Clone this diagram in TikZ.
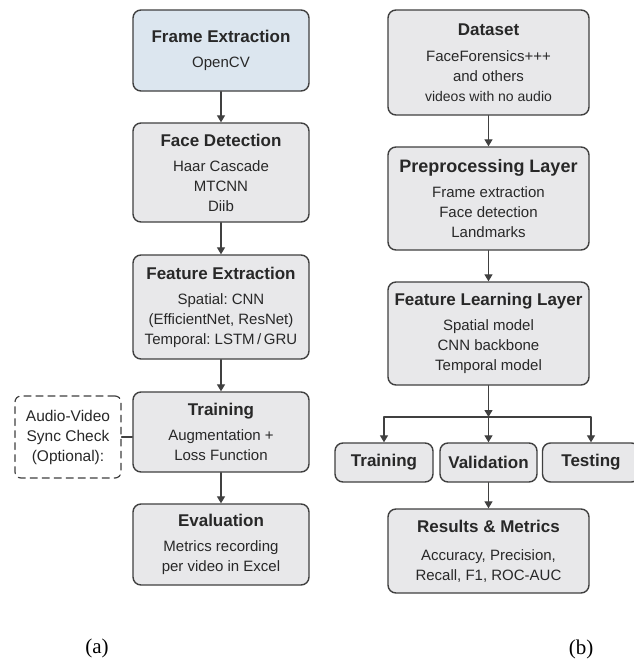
\documentclass[tikz,border=0pt]{standalone}
\usepackage{fontspec}
\setmainfont{Liberation Sans}
\newfontfamily\capfont{Liberation Serif}
\usetikzlibrary{arrows.meta}
\definecolor{boxfill}{RGB}{232,232,234}
\definecolor{bluefill}{RGB}{220,230,239}
\definecolor{edgegray}{RGB}{64,64,64}
\definecolor{textgray}{RGB}{40,40,40}
\frenchspacing

\begin{document}
\begin{tikzpicture}[x=1pt, y=-1pt, line join=round, line cap=round,
    box/.style={draw=edgegray, line width=1.4pt, fill=boxfill, rounded corners=8pt,
      align=center, text=textgray, inner sep=0pt, font=\fontsize{15}{20}\selectfont},
    tagbox/.style={box, font=\fontsize{17}{20}\selectfont\bfseries},
    optbox/.style={draw=edgegray, line width=1.2pt, dash pattern=on 7pt off 5pt,
      rounded corners=6pt, align=center, text=textgray, inner sep=0pt,
      font=\fontsize{15.5}{20}\selectfont},
    arr/.style={draw=edgegray, line width=1.3pt, -{Triangle[width=8pt,length=7pt]}}]
      \def\boxhead#1{{\fontsize{17}{20}\selectfont\bfseries #1}\\[5pt]}
      \def\wl{176pt} % width of the left boxes
      \def\wr{201pt} % width of the right boxes

      \useasboundingbox (0,0) rectangle (633,662);
      \fill[white] (0,0) rectangle (633,662);

      % left chart (a)
      \node[box, fill=bluefill, minimum width=\wl, minimum height=81pt] (frame) at (221,50.5)
        {\boxhead{Frame Extraction}OpenCV};
      \node[box, minimum width=\wl, minimum height=99pt] (face) at (221,172.5)
        {\boxhead{Face Detection}Haar Cascade\\MTCNN\\Diib};
      \node[box, minimum width=\wl, minimum height=104pt] (feat) at (221,307)
        {\boxhead{Feature Extraction}Spatial: CNN\\(EfficientNet, ResNet)\\Temporal: LSTM\,/\,GRU};
      \node[box, minimum width=\wl, minimum height=80pt] (train) at (221,432)
        {\boxhead{Training}Augmentation +\\Loss Function};
      \node[box, minimum width=\wl, minimum height=81pt] (eval) at (221,544.5)
        {\boxhead{Evaluation}Metrics recording\\per video in Excel};
      \node[optbox, minimum width=106pt, minimum height=82pt] (sync) at (68,437)
        {Audio-Video\\Sync Check\\(Optional):};

      \draw[arr] (frame) -- (face);
      \draw[arr] (face) -- (feat);
      \draw[arr] (feat) -- (train);
      \draw[arr] (train) -- (eval);
      \draw[edgegray, line width=1.2pt] (sync.east) -- (sync.east -| train.west);

      % right chart (b)
      \node[box, minimum width=\wr, minimum height=105pt] (data) at (488.5,62.5)
        {{\fontsize{17}{20}\selectfont\bfseries Dataset}\\[6pt]FaceForensics+++\\and others\\{\fontsize{14}{20}\selectfont videos with no audio}};
      \node[box, minimum width=\wr, minimum height=103pt] (prep) at (488.5,198.5)
        {{\fontsize{18}{20}\selectfont\bfseries Preprocessing Layer}\\[5pt]Frame extraction\\Face detection\\Landmarks};
      \node[box, minimum width=\wr, minimum height=103pt] (learn) at (488.5,333.5)
        {\boxhead{Feature Learning Layer}Spatial model\\CNN backbone\\Temporal model};
      \coordinate (split) at (488.5,417);
      \node[tagbox, minimum width=98pt, minimum height=39pt] (trn) at (384,462.5) {Training};
      \node[tagbox, minimum width=97pt, minimum height=39pt] (val) at (488.5,462.5) {Validation};
      \node[tagbox, minimum width=97pt, minimum height=39pt] (tst) at (591,462.5) {Testing};
      \node[box, minimum width=\wr, minimum height=84pt] (res) at (488.5,551)
        {{\fontsize{17}{20}\selectfont\bfseries Results \& Metrics}\\[8pt]Accuracy, Precision,\\Recall, F1, ROC-AUC};

      \draw[arr] (data) -- (prep);
      \draw[arr] (prep) -- (learn);
      \draw[arr] (learn) -- (split);
      \draw[arr] (split) -| (trn);
      \draw[arr] (split) -| (tst);
      \draw[arr] (split) -- (val);
      \draw[arr] (val) -- (res);

      % captions
      \node[font=\capfont\fontsize{21}{24}\selectfont] (capa) at (97,648) {(a)};
      \node[font=\capfont\fontsize{21}{24}\selectfont] (capb) at (581,649) {(b)};
\end{tikzpicture}
\end{document}
